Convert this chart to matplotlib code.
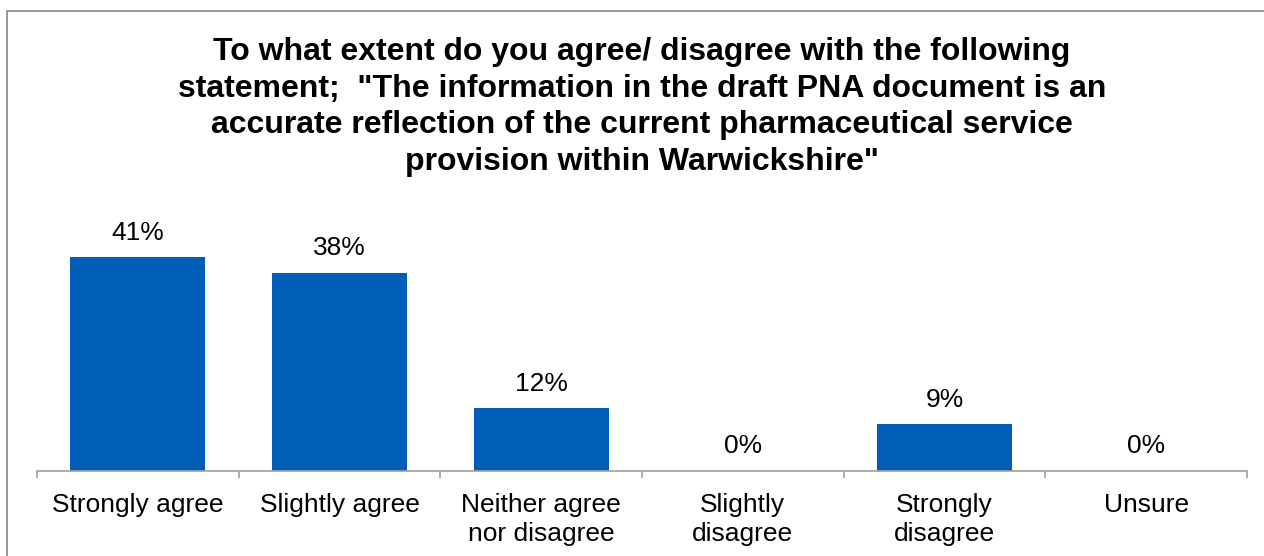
import matplotlib.pyplot as plt
import numpy as np
from matplotlib.patches import Rectangle

categories = ["Strongly agree", "Slightly agree", "Neither agree\nnor disagree",
              "Slightly\ndisagree", "Strongly\ndisagree", "Unsure"]
values = [41, 38, 12, 0, 9, 0]
title = ('To what extent do you agree/ disagree with the following\n'
         'statement;  "The information in the draft PNA document is an\n'
         'accurate reflection of the current pharmaceutical service\n'
         'provision within Warwickshire"')

plt.rcParams['font.family'] = ['Liberation Sans', 'DejaVu Sans']

W, H = 1264, 556
fig = plt.figure(figsize=(W / 100, H / 100), dpi=100)
fig.patch.set_facecolor('white')

# outer chart border (cut off at right and bottom)
fig.patches.append(Rectangle((7 / W, -0.1), 1.2, (H - 11) / H + 0.1,
                             transform=fig.transFigure, fill=False,
                             edgecolor='#868686', linewidth=1.2))

ax_bottom = (H - 471) / H
ax_top = (H - 200) / H
ax = fig.add_axes([37 / W, ax_bottom, (1247 - 37) / W, ax_top - ax_bottom])

x = np.arange(len(categories))
bars = ax.bar(x, values, width=0.67, color='#005EB8')
for xi, v in zip(x, values):
    ax.text(xi, v + 2.4, f"{v}%", ha='center', va='bottom', fontsize=19)

ax.set_xlim(-0.5, len(categories) - 0.5)
ax.set_ylim(0, 52)
ax.set_yticks([])
ax.set_xticks(x)
ax.set_xticklabels(categories, fontsize=19, linespacing=1.25)
ax.set_xticks(np.arange(-0.5, len(categories)), minor=True)
ax.tick_params(axis='x', which='major', length=0, pad=16)
ax.tick_params(axis='x', which='minor', length=5, width=1.2, color='#A0A0A0', direction='out')
for s in ['top', 'right', 'left']:
    ax.spines[s].set_visible(False)
ax.spines['bottom'].set_color('#A0A0A0')
ax.spines['bottom'].set_linewidth(1.2)

fig.text(642 / W, (H - 107) / H, title, ha='center', va='center',
         fontsize=23, fontweight='bold', linespacing=1.28)

fig.savefig('out.png', dpi=100, facecolor='white')
